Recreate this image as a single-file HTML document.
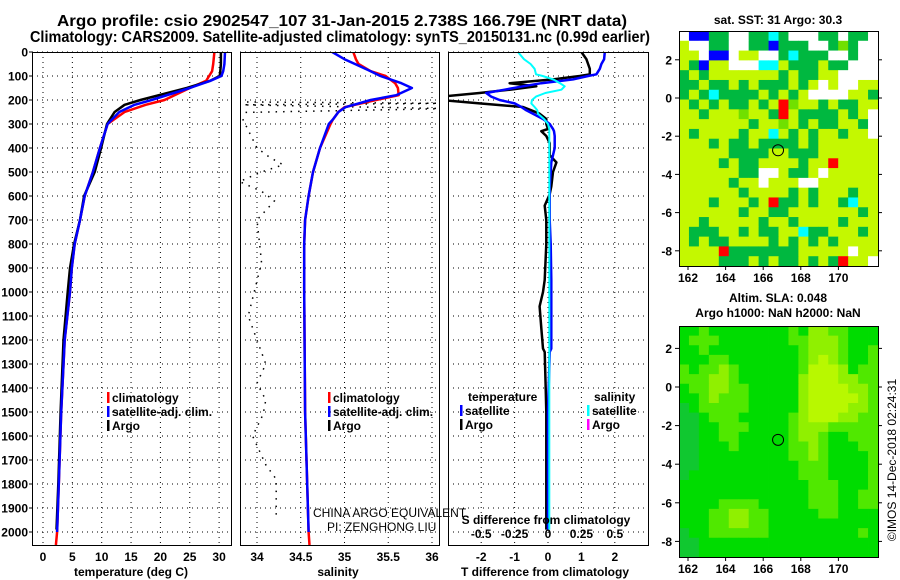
<!DOCTYPE html>
<html><head><meta charset="utf-8">
<style>
html,body{margin:0;padding:0;background:#fff;}
svg{display:block;font-family:"Liberation Sans",Arial,sans-serif;}
.b{font-weight:bold;font-size:12px;}
</style></head>
<body>
<svg id="fig" width="900" height="580" viewBox="0 0 900 580" xmlns="http://www.w3.org/2000/svg">
<text x="342" y="26" text-anchor="middle" font-weight="bold" font-size="15.5" textLength="570" lengthAdjust="spacingAndGlyphs">Argo profile: csio 2902547_107 31-Jan-2015 2.738S 166.79E (NRT data)</text>
<text x="340" y="42" text-anchor="middle" font-weight="bold" font-size="15.5" textLength="620" lengthAdjust="spacingAndGlyphs">Climatology: CARS2009. Satellite-adjusted climatology: synTS_20150131.nc (0.99d earlier)</text>
<g id="g"></g>
</svg>
<script>
// ---------- profile data ----------
const depthT = [0,50,80,100,120,150,200,220,250,300,400,500,600,700,800,900,1000,1200,1500,1800,2000,2054];
const tempClim = [29.2,29.0,28.8,28.3,27.8,25.0,20.7,17.5,13.9,11.0,9.7,8.5,7.1,6.3,5.4,4.9,4.6,3.7,3.1,2.7,2.4,2.2];
const tempSat  = [31.0,30.9,30.7,30.4,28.5,25.0,18.5,15.6,13.0,11.0,9.7,8.5,7.1,6.3,5.4,4.9,4.6,3.7,3.1,2.7,2.4];
const depthArgoT = [0,50,80,100,120,150,200,220,250,300,400,500,600,700,800,900,1000,1200,1500,1800,1990];
const tempArgo = [30.3,30.3,30.2,30.1,28.5,24.5,16.6,13.9,12.2,10.9,9.9,8.8,7.0,6.3,5.3,4.6,4.2,3.5,3.0,2.6,2.3];

const depthS = [0,30,50,80,100,130,150,180,200,230,250,280,300,400,500,600,700,800,1000,1500,2000,2054];
const salClim = [35.10,35.13,35.16,35.30,35.47,35.58,35.61,35.62,35.36,35.00,34.93,34.87,34.84,34.72,34.64,34.59,34.55,34.54,34.54,34.55,34.59,34.60];
const salSat  = [34.86,35.00,35.12,35.30,35.41,35.65,35.77,35.59,35.30,35.01,34.93,34.87,34.82,34.72,34.64,34.59,34.55,34.54,34.54,34.55,34.59];
const depthArgoS = [208,214,220,236,252,400,440,470,500,540,580,620,660,700,870,880,1100,1200,1300,1380,1450,1510,1600,1720,1780,1950];
const salArgo = [33.8,36.2,33.8,36.2,33.8,34.0,34.15,34.3,34.05,33.8,34.05,34.2,34.1,34.0,34.05,34.05,33.9,34.0,34.1,34.0,34.1,34.07,33.95,34.1,34.22,34.22];

const depthD = [0,30,50,70,93,100,114,130,143,157,171,186,200,214,229,243,257,279,300,321,330,350,380,400,430,460,500,560,593,640,700,800,950,1000,1060,1150,1236,1250,1400,1500,1800,1990];
const dTArgo = [1.0,1.15,1.2,1.25,1.25,0.95,0.15,-1.15,-0.35,-1.15,-2.05,-3.2,-3.2,-2.05,-0.75,-0.5,-0.25,-0.05,-0.05,0.0,-0.2,-0.05,0.05,0.05,0.05,0.25,0.15,0.1,0.05,-0.1,-0.05,-0.05,-0.1,-0.15,-0.25,-0.2,-0.15,-0.1,-0.07,-0.05,-0.05,-0.05];
const dTSat = [1.7,1.68,1.6,1.55,1.45,1.2,0.75,-0.2,-0.75,-1.3,-1.85,-1.7,-1.45,-1.0,-0.8,-0.65,-0.45,-0.15,0.05,0.15,0.18,0.2,0.2,0.2,0.15,0.1,0.08,0.05,0.05,0.05,0.05,0.08,0.1,0.1,0.1,0.1,0.1,0.05,0.02,0.0,0.0,0.0];
const dSSat = [-0.225,-0.18,-0.13,-0.10,-0.09,-0.04,0.04,0.09,0.125,0.1,-0.02,-0.09,-0.12,-0.125,-0.10,-0.08,-0.075,-0.03,0.0,0.01,0.01,0.01,0.01,0.01,0.01,0.01,0.01,0.01,0.01,0.01,0.01,0.01,0.01,0.01,0.01,0.01,0.01,0.01,0.01,0.01,0.01,0.01];

const tempTicks = [0,5,10,15,20,25,30];
const salTicks = [34,34.5,35,35.5,36];
const salTickLabels = ["34","34.5","35","35.5","36"];
const dTTicks = [-2,-1,0,1,2];
const dSTicks = [-0.5,-0.25,0,0.25,0.5];
const dSTickLabels = ["-0.5","-0.25","0","0.25","0.5"];
const depthTicks = [0,100,200,300,400,500,600,700,800,900,1000,1100,1200,1300,1400,1500,1600,1700,1800,1900,2000];

// ---------- map data ----------
const lonTicks = [162,164,166,168,170];
const latTicks = [2,0,-2,-4,-6,-8];
const floatLon = 166.79, floatLat = -2.738;
const sstGrid = [
"wbbggwwggcgwwwggwggw",
".wwggwwggbgggwwglgww",
"..wbbw..wwgcgggwwgww",
".gb..wwwcc.ggg.ggwww",
"g.g.......g.gg..wwww",
"gg.gg.g.ggg.g.w.ww..",
"g.gcgggg.g.g.wwww..g",
".g.g.gg.g.rl..g.gg..",
"..g...l..gr.gggg.g.w",
".......g..l.g.gg..gw",
".g....g..c.g.g..g..w",
"...g.gg.gggg.g......",
".....gggg..ggg......",
"....g.gg....g..r....",
"......ggww.gg.w.....",
".....g..w...ww......",
"......g....g.g...g..",
"...g...g.rgg.g..gc..",
"......g..gg.......g.",
"..g.....g..g....g...",
".ggg..g.gg..cgg...g.",
".g.gg....g.g.g.g....",
"....rggggggg.....w..",
"....ggg.g.gg.g.gr..w"];
const slaGrid = [
"11211111111213322111","12221111111223332111","11211111111123332112","11122111111123432112",
"21223211111124443122","22233211111134443322","12233221111134444332","11232221111134444432",
"01222221111134444332","00122211111234443322","00112221111233322222","00112211111233211222",
"00111211111223211122","00111111111223211112","00111111111122211112","01111111111122211112",
"11111111111112221112","11111111111112221122","11112222111112221122","11122332211111221111",
"11122332211111111111","01122222211111111121","00111111111111111111","00111111111111111111"];

const NS="http://www.w3.org/2000/svg";
const G=document.getElementById('g');
function mk(tag,attrs,parent){const e=document.createElementNS(NS,tag);for(const k in attrs)e.setAttribute(k,attrs[k]);(parent||G).appendChild(e);return e;}

const Y0=52,Y1=545;
const yD=d=>Y0+d*0.24;
const panels=[
 {x0:32,x1:231,f:t=>43+t*5.87},
 {x0:240,x1:439,f:s=>257+(s-34)*87.5},
 {x0:448,x1:648,f:t=>548+t*33.4}
];
const xS=s=>548+s*4*33.4;

panels.forEach((p,i)=>{
  depthTicks.forEach(d=>{
    const l=mk('line',{x1:p.x0,x2:p.x1,y1:yD(d),y2:yD(d),stroke:'#000','stroke-width':1,'stroke-dasharray':'1,4'});
    
    
  });
  const tv=i===0?tempTicks:(i===1?salTicks:dTTicks);
  tv.forEach(v=>{
    const l=mk('line',{x1:p.f(v),x2:p.f(v),y1:Y0,y2:Y1,stroke:'#000','stroke-width':1,'stroke-dasharray':'1,4'});
    
    
  });
});

depthTicks.forEach(d=>{
  const t=mk('text',{x:28,y:yD(d)+4.5,'text-anchor':'end',class:'b'});
  t.textContent=d;
  
  
  const tk=mk('line',{x1:29,x2:32,y1:yD(d),y2:yD(d),stroke:'#000'});
  
  
});

const defs=mk('defs',{});
const clipG=[];
panels.forEach((p,i)=>{
  const cp=mk('clipPath',{id:'cp'+i},defs);
  mk('rect',{x:p.x0,y:Y0,width:p.x1-p.x0,height:Y1-Y0},cp);
  const g=mk('g',{'clip-path':'url(#cp'+i+')'});
  
  
  clipG.push(g);
});
let curClip=0;
function line(ds,vs,fx,color,w,name,dash){
  const pts=[];
  for(let i=0;i<vs.length&&i<ds.length;i++)pts.push(fx(vs[i]).toFixed(1)+','+yD(ds[i]).toFixed(1));
  const a={points:pts.join(' '),fill:'none',stroke:color,'stroke-width':w,'stroke-linejoin':'round'};
  if(dash)a['stroke-dasharray']=dash;
  const e=mk('polyline',a,clipG[curClip]);
  
  
  return e;
}
line(depthT,tempClim,panels[0].f,'#f00',2.5,'temperature-climatology-line');
line(depthArgoT,tempArgo,panels[0].f,'#000',2.5,'temperature-argo-line');
line(depthT,tempSat,panels[0].f,'#00f',2.5,'temperature-satellite-line');
curClip=1;
line(depthArgoS,salArgo,panels[1].f,'#000',1.5,'salinity-argo-dotted-line','1.5,6');
line(depthS,salClim,panels[1].f,'#f00',2.5,'salinity-climatology-line');
line(depthS,salSat,panels[1].f,'#00f',2.5,'salinity-satellite-line');
curClip=2;
line(depthD,dTArgo,panels[2].f,'#000',2.5,'t-diff-argo-line');
line(depthD,dTSat,panels[2].f,'#00f',2.5,'t-diff-satellite-line');
line(depthD,dSSat,xS,'#0ff',2,'s-diff-satellite-line');

panels.forEach((p,i)=>{
  const r=mk('rect',{x:p.x0+0.5,y:Y0+0.5,width:p.x1-p.x0,height:Y1-Y0,fill:'none',stroke:'#000','stroke-width':1});
  
  
});

function txt(x,y,s,opts,name){
  const t=mk('text',Object.assign({x:x,y:y},opts||{}));
  t.textContent=s;
  
  
  return t;
}
tempTicks.forEach(v=>txt(panels[0].f(v),561,String(v),{'text-anchor':'middle',class:'b'},'temperature-tick-label'));
salTicks.forEach((v,i)=>txt(panels[1].f(v),561,salTickLabels[i],{'text-anchor':'middle',class:'b'},'salinity-tick-label'));
dTTicks.forEach(v=>txt(panels[2].f(v),561,String(v),{'text-anchor':'middle',class:'b'},'t-diff-tick-label'));
dSTicks.forEach((v,i)=>txt(xS(v),538,dSTickLabels[i],{'text-anchor':'middle',class:'b'},'s-diff-tick-label'));
txt(131,576,'temperature (deg C)',{'text-anchor':'middle',class:'b'},'temperature-axis-title');
txt(338,576,'salinity',{'text-anchor':'middle',class:'b'},'salinity-axis-title');
txt(545,576,'T difference from climatology',{'text-anchor':'middle',class:'b'},'t-diff-axis-title');
txt(546,524,'S difference from climatology',{'text-anchor':'middle',class:'b'},'s-diff-axis-title');
txt(313,517,'CHINA ARGO EQUIVALENT',{'font-size':12},'institution-label');
txt(327,531,'PI: ZENGHONG LIU',{'font-size':12},'pi-label');

function leg(x,y,color,label,name){
  const r=mk('rect',{x:x,y:y-10,width:2.5,height:11,fill:color});
  
  
  txt(x+5,y,label,{class:'b'},name+'-label');
}
leg(107,402,'#f00','climatology','legend-climatology');
leg(107,416,'#00f','satellite-adj. clim.','legend-satellite');
leg(107,430,'#000','Argo','legend-argo');
leg(328,402,'#f00','climatology','legend2-climatology');
leg(328,416,'#00f','satellite-adj. clim.','legend2-satellite');
leg(328,430,'#000','Argo','legend2-argo');
txt(468,401,'temperature',{class:'b'},'legend-temperature-header');
leg(460,415,'#00f','satellite','legend-t-satellite');
leg(460,429,'#000','Argo','legend-t-argo');
txt(594,401,'salinity',{class:'b'},'legend-salinity-header');
leg(587,415,'#0ff','satellite','legend-s-satellite');
leg(587,429,'#f0f','Argo','legend-s-argo');

const sstCol={'.':'#c4f800','g':'#00b840','l':'#70e000','m':'#40d000','w':'#ffffff','b':'#0000ff','c':'#00ffff','r':'#ff0000'};
const slaCol=['#10c830','#00dc00','#50e800','#90f000','#b8f800'];
function drawMap(mx0,my0,mx1,my1,lat0y,latScale,grid,colFn,name){
  const rows=grid.length, cols=grid[0].length;
  const cw=(mx1-mx0)/cols, ch=(my1-my0)/rows;
  for(let r=0;r<rows;r++)for(let c=0;c<cols;c++){
    const e=mk('rect',{x:(mx0+c*cw).toFixed(2),y:(my0+r*ch).toFixed(2),width:(cw+0.4).toFixed(2),height:(ch+0.4).toFixed(2),fill:colFn(grid[r][c])});
    
    
  }
  const fr=mk('rect',{x:mx0+0.5,y:my0+0.5,width:mx1-mx0,height:my1-my0,fill:'none',stroke:'#000'});
  
  
  const lx=lon=>688+(lon-162)*18.8;
  const ly=lat=>lat0y-lat*latScale;
  lonTicks.forEach(v=>{
    txt(lx(v),my1+16,String(v),{'text-anchor':'middle',class:'b'},name+'-lon-label');
    const t=mk('line',{x1:lx(v),x2:lx(v),y1:my1,y2:my1+4,stroke:'#000'});
    
    
  });
  latTicks.forEach(v=>{
    txt(672,ly(v)+4.5,String(v),{'text-anchor':'end',class:'b'},name+'-lat-label');
    const t=mk('line',{x1:mx0-4,x2:mx0,y1:ly(v),y2:ly(v),stroke:'#000'});
    
    
    const t2=mk('line',{x1:mx1,x2:mx1+4,y1:ly(v),y2:ly(v),stroke:'#000'});
    
    
  });
  const c=mk('circle',{cx:lx(floatLon),cy:ly(floatLat),r:5.5,fill:'none',stroke:'#000','stroke-width':1});
  
  
}
drawMap(679,31,878,266,98,19.1,sstGrid,ch=>sstCol[ch],'sst-map');
txt(778,24,'sat. SST: 31 Argo: 30.3',{'text-anchor':'middle',class:'b'},'sst-map-title');
drawMap(679,326,878,557,387,19.3,slaGrid,ch=>slaCol[+ch],'sla-map');
txt(778,302,'Altim. SLA: 0.048',{'text-anchor':'middle',class:'b'},'sla-map-title');
txt(778,317,'Argo h1000: NaN h2000: NaN',{'text-anchor':'middle',class:'b'},'sla-map-subtitle');
txt(0,0,'\u00a9IMOS 14-Dec-2018 02:24:31',{'font-size':12,transform:'translate(896,460) rotate(-90)','text-anchor':'middle'},'imos-timestamp');
</script>
</body></html>
